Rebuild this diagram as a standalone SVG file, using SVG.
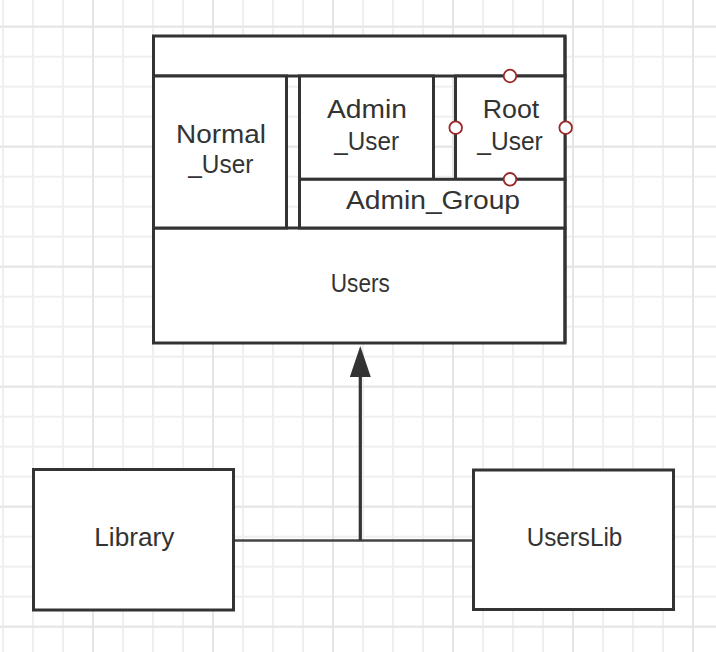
<svg xmlns="http://www.w3.org/2000/svg" width="716" height="652" viewBox="0 0 716 652">
<style>
.box{fill:#fff;stroke:#333;stroke-width:3}
.line{fill:none;stroke:#333;stroke-width:3}
.t{font-family:"Liberation Sans",Arial,sans-serif;font-size:26px;fill:#333;text-anchor:middle}
.h{fill:#fff;stroke:#982a2a;stroke-width:1.8}
</style>
<defs>
<pattern id="minor" width="30" height="30" patternUnits="userSpaceOnUse" x="-12" y="11.7">
<path d="M15 0V30M0 15H30" stroke="#efefef" stroke-width="2" fill="none"/>
</pattern>
<pattern id="major" width="120" height="120" patternUnits="userSpaceOnUse" x="33" y="-33.3">
<path d="M60 0V120M0 60H120" stroke="#e5e5e5" stroke-width="2" fill="none"/>
</pattern>
</defs>
<rect width="716" height="652" fill="#fff"/>
<rect width="716" height="652" fill="url(#minor)"/>
<rect width="716" height="652" fill="url(#major)"/>

<g id="users">
<rect class="box" x="153.5" y="36" width="411.5" height="40"/>
<rect class="box" x="153.5" y="228" width="411.5" height="115"/>
<path class="line" d="M153.5 76V228M286.5 76V228M299.5 76V228M433.5 76V179M455.5 76V179M565 36V343"/>
<text class="t" x="360.3" y="292.3" textLength="59" lengthAdjust="spacingAndGlyphs">Users</text>
</g>
<g id="normal_user">
<rect class="box" x="153.5" y="76" width="133" height="152"/>
<text class="t" x="221" y="142.7" textLength="90" lengthAdjust="spacingAndGlyphs">Normal</text>
<text class="t" x="220.8" y="173.3" textLength="65" lengthAdjust="spacingAndGlyphs">_User</text>
</g>
<g id="admin_user">
<rect class="box" x="299.5" y="76" width="134" height="103.3"/>
<text class="t" x="367" y="117.7" textLength="80" lengthAdjust="spacingAndGlyphs">Admin</text>
<text class="t" x="366.7" y="150" textLength="64.7" lengthAdjust="spacingAndGlyphs">_User</text>
</g>
<g id="root_user">
<rect class="box" x="455.5" y="76" width="109.5" height="103.3"/>
<text class="t" x="511" y="117.7" textLength="56.6" lengthAdjust="spacingAndGlyphs">Root</text>
<text class="t" x="510" y="150" textLength="65.4" lengthAdjust="spacingAndGlyphs">_User</text>
<circle class="h" cx="510" cy="76" r="6.3"/>
<circle class="h" cx="455.7" cy="127.7" r="6.3"/>
<circle class="h" cx="565.7" cy="127.7" r="6.3"/>
</g>
<g id="admin_group">
<rect class="box" x="299.5" y="179.3" width="265.5" height="48.7"/>
<text class="t" x="433" y="209.3" textLength="174" lengthAdjust="spacingAndGlyphs">Admin_Group</text>
<circle class="h" cx="510" cy="179.3" r="6.3"/>
</g>
<g id="library">
<rect class="box" x="33.5" y="469.5" width="200" height="140.5"/>
<text class="t" x="134.3" y="546" textLength="80" lengthAdjust="spacingAndGlyphs">Library</text>
</g>
<g id="userslib">
<rect class="box" x="473.5" y="470" width="200" height="139.5"/>
<text class="t" x="574.5" y="546" textLength="95.7" lengthAdjust="spacingAndGlyphs">UsersLib</text>
</g>
<g id="connectors">
<path d="M235 540.5H472" fill="none" stroke="#444" stroke-width="2.6"/>
<path d="M360.3 540.5V376" fill="none" stroke="#333" stroke-width="3.2"/>
<polygon points="360.3,346 349.8,377 370.8,377" fill="#333"/>
</g>
</svg>
